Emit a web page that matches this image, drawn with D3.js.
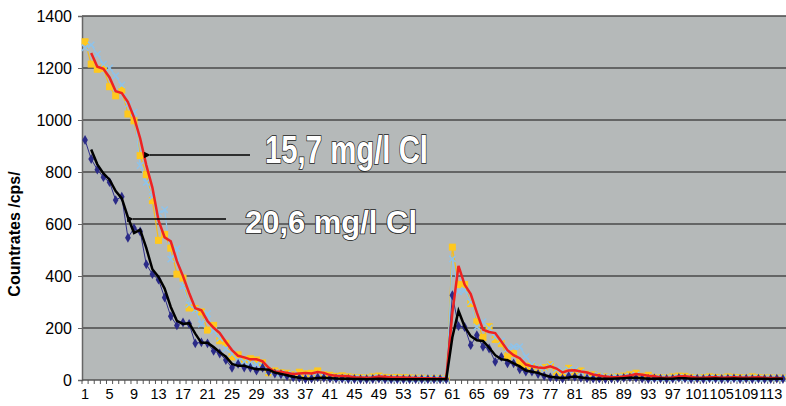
<!DOCTYPE html>
<html>
<head>
<meta charset="utf-8">
<script src="https://cdn.jsdelivr.net/npm/d3@7"></script>
<style>
  body { margin: 0; background: #fff; }
  svg { display: block; font-family: "Liberation Sans", Arial, sans-serif; }
</style>
</head>
<body>
<div id="chart-area"></div>
<script>
// Chart values
let categories = d3.range(1, 116);

// 15,7 mg/l Cl (yellow squares)
let seriesA = [1301, 1215, 1195, 1199, 1128, 1093, 1115, 1023, 997, 863,
	790, 690, 537, 560, 507, 407, 392, 277, 275, 262,
	192, 210, 151, 141, 89, 97, 77, 82, 77, 66,
	28, 35, 28, 26, 20, 30, 24, 26, 35, 20,
	18, 14, 16, 12, 10, 9, 8, 12, 15, 10,
	9, 10, 9, 8, 7, 7, 6, 6, 6, 6,
	511, 367, 367, 294, 224, 164, 205, 156, 140, 89,
	102, 66, 53, 52, 45, 48, 58, 30, 28, 45,
	30, 35, 22, 20, 14, 12, 10, 12, 15, 20,
	26, 14, 18, 10, 9, 8, 12, 15, 14, 10,
	8, 9, 12, 10, 8, 12, 10, 9, 8, 12,
	9, 8, 8, 7, 7];

// second run (light blue crosses)
let seriesB = [1278, 1289, 1253, 1215, 1200, 1170, 1135, 1060, 1030, 825,
	760, 705, 640, 655, 465, 505, 360, 290, 270, 215,
	255, 190, 160, 120, 100, 75, 70, 65, 60, 55,
	35, 28, 25, 22, 20, 18, 15, 12, 20, 14,
	12, 10, 10, 8, 8, 7, 6, 8, 10, 7,
	6, 6, 6, 5, 5, 5, 5, 5, 5, 5,
	466, 339, 345, 300, 204, 224, 200, 165, 150, 120,
	128, 128, 90, 60, 50, 45, 58, 40, 35, 40,
	40, 30, 20, 18, 15, 12, 10, 10, 12, 15,
	18, 12, 10, 8, 8, 7, 8, 10, 8, 7,
	8, 7, 8, 7, 6, 8, 7, 6, 7, 8,
	6, 6, 7, 6, 6];

// 20,6 mg/l Cl (dark blue diamonds)
let seriesC = [923, 850, 809, 780, 761, 692, 705, 547, 584, 571,
	445, 407, 386, 317, 245, 210, 221, 216, 141, 145,
	141, 112, 102, 77, 47, 62, 48, 47, 36, 47,
	32, 25, 22, 15, 10, 8, 4, 5, 10, 8,
	6, 5, 5, 4, 4, 3, 3, 4, 5, 3,
	3, 3, 3, 3, 3, 3, 3, 3, 3, 3,
	326, 207, 204, 134, 172, 128, 121, 70, 89, 64,
	64, 41, 32, 32, 23, 15, 10, 10, 5, 15,
	12, 8, 6, 5, 5, 4, 5, 6, 8, 10,
	8, 5, 4, 6, 5, 4, 5, 8, 6, 4,
	5, 4, 6, 5, 4, 5, 6, 4, 5, 4,
	5, 4, 4, 5, 4];

let yTicks = [0, 200, 400, 600, 800, 1000, 1200, 1400];
let xLabels = categories.filter(c => (c - 1) % 4 === 0);

// 2 period moving average trendlines (as in the original spreadsheet chart)
function movingAverage(values) {
	return values.map((v, i) => i === 0 ? null : (v + values[i - 1]) / 2);
}

let width = 786,
	height = 406;

let svg = d3.select("#chart-area").append("svg")
	.attr("width", width)
	.attr("height", height);

let plot = {left: 82, right: 786, top: 16, bottom: 380};

let x = d3.scaleBand()
	.domain(categories)
	.range([plot.left, plot.right]);

let cx = c => x(c) + x.bandwidth() / 2;

let y = d3.scaleLinear()
	.domain([0, 1400])
	.range([plot.bottom, plot.top]);

// plot background
svg.append("rect")
	.attr("x", plot.left)
	.attr("y", plot.top)
	.attr("width", plot.right - plot.left)
	.attr("height", plot.bottom - plot.top)
	.attr("fill", "#b5b9b9");

// horizontal gridlines
svg.selectAll(".grid")
	.data(yTicks.filter(t => t > 0))
	.enter()
	.append("line")
	.attr("class", "grid")
	.attr("x1", plot.left)
	.attr("x2", plot.right)
	.attr("y1", d => y(d))
	.attr("y2", d => y(d))
	.attr("stroke", "#4a4a4a")
	.attr("stroke-width", 1.5);

// y axis
let yAxis = d3.axisLeft(y)
	.tickValues(yTicks)
	.tickFormat(d3.format("d"))
	.tickSize(4)
	.tickPadding(6);

let yg = svg.append("g")
	.attr("transform", "translate(" + plot.left + ",0)")
	.call(yAxis)
	.attr("font-size", 16)
	.attr("font-family", "Liberation Sans, Arial, sans-serif");
yg.select(".domain").attr("stroke", "#666").attr("stroke-width", 1.5);
yg.selectAll(".tick line").attr("stroke", "#666");
yg.selectAll("text").attr("fill", "#000");

// x axis: a tick at every category boundary, a label every 4th category
let xg = svg.append("g");
xg.append("line")
	.attr("x1", plot.left)
	.attr("x2", plot.right)
	.attr("y1", plot.bottom)
	.attr("y2", plot.bottom)
	.attr("stroke", "#555")
	.attr("stroke-width", 1.5);
xg.selectAll(".xtick")
	.data(categories)
	.enter()
	.append("line")
	.attr("x1", d => x(d))
	.attr("x2", d => x(d))
	.attr("y1", plot.bottom)
	.attr("y2", plot.bottom + 4)
	.attr("stroke", "#555");
xg.selectAll(".xlabel")
	.data(xLabels)
	.enter()
	.append("text")
	.attr("x", d => cx(d))
	.attr("y", 399)
	.attr("text-anchor", "middle")
	.attr("font-size", 14.5)
	.text(d => d);

// y axis title
svg.append("text")
	.attr("transform", "translate(20,234) rotate(-90)")
	.attr("text-anchor", "middle")
	.attr("font-size", 16)
	.attr("font-weight", "bold")
	.text("Countrates /cps/");

// series lines
let line = d3.line()
	.defined(d => d != null)
	.x((d, i) => cx(categories[i]))
	.y(d => y(d));

svg.append("path")
	.datum(seriesA)
	.attr("d", line)
	.attr("fill", "none")
	.attr("stroke", "#f5bd1f")
	.attr("stroke-width", 1.2);

svg.append("path")
	.datum(seriesB)
	.attr("d", line)
	.attr("fill", "none")
	.attr("stroke", "#8fc3ea")
	.attr("stroke-width", 1.2);

svg.append("path")
	.datum(seriesC)
	.attr("d", line)
	.attr("fill", "none")
	.attr("stroke", "#2e2e8c")
	.attr("stroke-width", 1);

// markers
svg.selectAll(".sqA")
	.data(seriesA)
	.enter()
	.append("rect")
	.attr("x", (d, i) => cx(categories[i]) - 3.5)
	.attr("y", d => y(d) - 3.5)
	.attr("width", 7)
	.attr("height", 7)
	.attr("fill", "#ffc81e");

svg.selectAll(".xB")
	.data(seriesB)
	.enter()
	.append("path")
	.attr("transform", (d, i) => "translate(" + cx(categories[i]) + "," + y(d) + ") rotate(45)")
	.attr("d", "M-4.5,0H4.5M0,-4.5V4.5")
	.attr("stroke", "#8fc3ea")
	.attr("stroke-width", 1.5)
	.attr("fill", "none");

svg.selectAll(".dmC")
	.data(seriesC)
	.enter()
	.append("path")
	.attr("transform", (d, i) => "translate(" + cx(categories[i]) + "," + y(d) + ")")
	.attr("d", d3.symbol().type(d3.symbolDiamond).size(28))
	.attr("fill", "#2b2b88");

// trendlines
svg.append("path")
	.datum(movingAverage(seriesA))
	.attr("d", line)
	.attr("fill", "none")
	.attr("stroke", "#ee2222")
	.attr("stroke-width", 2.5);

svg.append("path")
	.datum(movingAverage(seriesC))
	.attr("d", line)
	.attr("fill", "none")
	.attr("stroke", "#000")
	.attr("stroke-width", 2.5);

// annotations with arrows
svg.append("defs").append("marker")
	.attr("id", "arrow")
	.attr("viewBox", "0 0 10 10")
	.attr("refX", 1)
	.attr("refY", 5)
	.attr("markerWidth", 7)
	.attr("markerHeight", 5)
	.attr("orient", "auto-start-reverse")
	.append("path")
	.attr("d", "M0,5L10,0L10,10Z")
	.attr("fill", "#000");

let notes = [
	{text: "15,7 mg/l Cl", x1: 250, y1: 155, x2: 150, y2: 155, tx: 265, ty: 163, len: 163, size: 39},
	{text: "20,6 mg/l Cl", x1: 226, y1: 219, x2: 133, y2: 219, tx: 245, ty: 233, len: 172, size: 31}
];

notes.forEach(n => {
	svg.append("line")
		.attr("x1", n.x1)
		.attr("y1", n.y1)
		.attr("x2", n.x2)
		.attr("y2", n.y2)
		.attr("stroke", "#000")
		.attr("stroke-width", 1.3)
		.attr("marker-end", "url(#arrow)");

	svg.append("text")
		.attr("x", n.tx)
		.attr("y", n.ty)
		.attr("font-size", n.size)
		.attr("font-weight", "bold")
		.attr("textLength", n.len)
		.attr("lengthAdjust", "spacingAndGlyphs")
		.attr("fill", "#fff")
		.attr("stroke", "#222")
		.attr("stroke-width", 1.6)
		.attr("paint-order", "stroke")
		.text(n.text);
});
</script>
</body>
</html>
